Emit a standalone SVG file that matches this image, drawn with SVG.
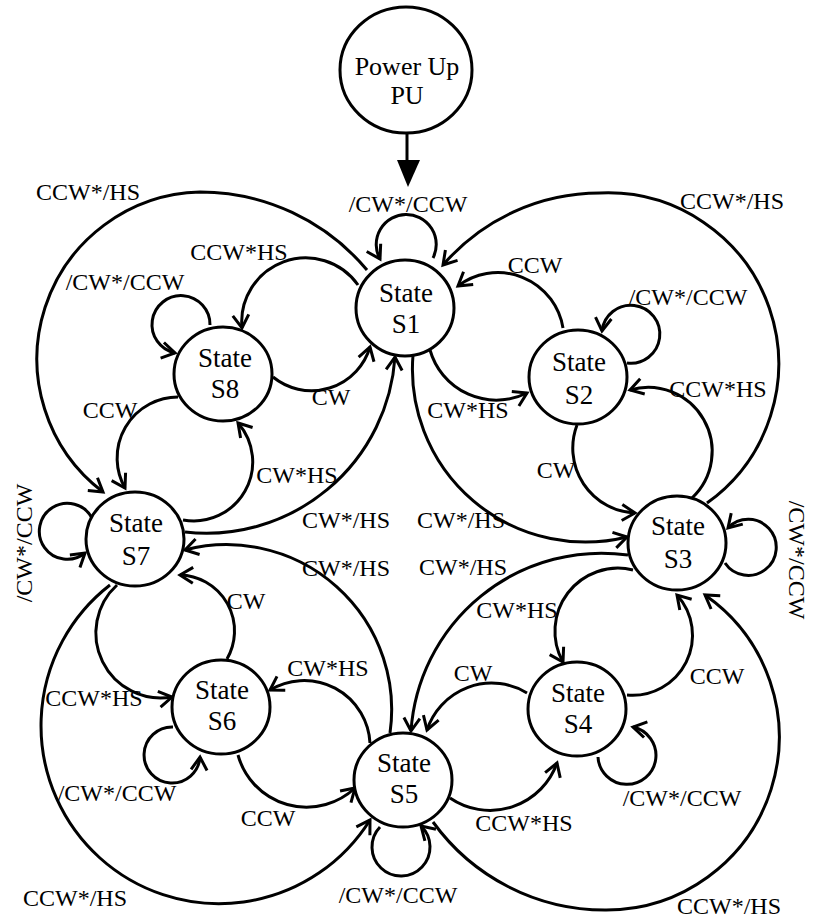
<svg xmlns="http://www.w3.org/2000/svg" width="817" height="920" viewBox="0 0 817 920">
  <style>
    .node { fill: #fff; stroke: #000; stroke-width: 3; }
    .name { font-family: "Liberation Serif", "Times New Roman", serif; font-size: 27px; text-anchor: middle; fill: #000; }
    .edge { fill: none; stroke: #000; stroke-width: 3; marker-end: url(#arrow); }
    .lbl { font-family: "Liberation Serif", "Times New Roman", serif; font-size: 24px; text-anchor: middle; fill: #000; }
  </style>
  <defs>
    <marker id="arrow" markerUnits="userSpaceOnUse" markerWidth="16" markerHeight="16" refX="0" refY="0" orient="auto" overflow="visible">
      <path d="M-13,-8 L0,0 L-13,8" fill="none" stroke="#000" stroke-width="3"/>
    </marker>
  </defs>
  <rect width="817" height="920" fill="#fff"/>

  <!-- transitions -->
  <g id="connectors">
    <!-- power-up entry -->
    <path d="M407,133 V162" fill="none" stroke="#000" stroke-width="3"/>
    <polygon points="397,160 420,160 408,187" fill="#000"/>

    <!-- self loops -->
    <path class="edge" d="M433,258 A30,30 0 1 0 380,259"/>
    <path class="edge" d="M210,325 A29,29 0 1 0 175,353"/>
    <path class="edge" d="M627,363 A29,29 0 1 0 602,331"/>
    <path class="edge" d="M725,563 A28,28 0 1 0 728,528"/>
    <path class="edge" d="M598,757 A29,29 0 1 0 633,727"/>
    <path class="edge" d="M380,827 A29,29 0 1 0 421,826"/>
    <path class="edge" d="M173,727 A28,28 0 1 0 200,757"/>
    <path class="edge" d="M92,518 A28,28 0 1 0 85,553"/>

    <!-- neighbour transitions -->
    <path class="edge" d="M358,285 A64,64 0 0 0 242,328"/>
    <path class="edge" d="M273,377 A61,61 0 0 0 370,347"/>
    <path class="edge" d="M178,397 A61,61 0 0 0 125,488"/>
    <path class="edge" d="M183,520 A59,59 0 0 0 238,423"/>
    <path class="edge" d="M563,328 A66,66 0 0 0 458,286"/>
    <path class="edge" d="M430,350 A69,69 0 0 0 527,393"/>
    <path class="edge" d="M577,425 A65,65 0 0 0 635,513"/>
    <path class="edge" d="M692,498 A64,64 0 0 0 630,390"/>
    <path class="edge" d="M633,570 A63,63 0 0 0 563,662"/>
    <path class="edge" d="M627,695 A60,60 0 0 0 677,595"/>
    <path class="edge" d="M527,693 A68,68 0 0 0 427,730"/>
    <path class="edge" d="M450,798 A71,71 0 0 0 557,763"/>
    <path class="edge" d="M370,743 A66,66 0 0 0 270,690"/>
    <path class="edge" d="M238,755 A71,71 0 0 0 355,788"/>
    <path class="edge" d="M227,659 A56,56 0 0 0 180,575"/>
    <path class="edge" d="M117,585 A65,65 0 0 0 172,697"/>

    <!-- inner ring -->
    <path class="edge" d="M185,532 A189,189 0 0 0 395,357"/>
    <path class="edge" d="M413,355 A173,173 0 0 0 627,537"/>
    <path class="edge" d="M628,555 A191,191 0 0 0 411,731"/>
    <path class="edge" d="M390,733 A165,165 0 0 0 185,550"/>

    <!-- outer ring -->
    <path class="edge" d="M367,270 A218,218 0 0 0 200,192 A167,167 0 0 0 103,492"/>
    <path class="edge" d="M707,503 A171,171 0 0 0 600,193 A207,207 0 0 0 443,265"/>
    <path class="edge" d="M433,822 A212,212 0 0 0 605,910 A173,173 0 0 0 705,595"/>
    <path class="edge" d="M110,585 A178,178 0 1 0 370,820"/>

    <!-- labels -->
    <text class="lbl" x="408" y="212">/CW*/CCW</text>
    <text class="lbl" x="125" y="290">/CW*/CCW</text>
    <text class="lbl" x="688" y="305">/CW*/CCW</text>
    <text class="lbl" transform="translate(789,560) rotate(90)">/CW*/CCW</text>
    <text class="lbl" x="682" y="806">/CW*/CCW</text>
    <text class="lbl" x="398" y="903">/CW*/CCW</text>
    <text class="lbl" x="117" y="801">/CW*/CCW</text>
    <text class="lbl" transform="translate(32,543) rotate(-90)">/CW*/CCW</text>

    <text class="lbl" x="239" y="260">CCW*HS</text>
    <text class="lbl" x="331" y="405">CW</text>
    <text class="lbl" x="110" y="418">CCW</text>
    <text class="lbl" x="297" y="483">CW*HS</text>
    <text class="lbl" x="535" y="273">CCW</text>
    <text class="lbl" x="468" y="418">CW*HS</text>
    <text class="lbl" x="556" y="478">CW</text>
    <text class="lbl" x="718" y="397">CCW*HS</text>
    <text class="lbl" x="517" y="618">CW*HS</text>
    <text class="lbl" x="717" y="684">CCW</text>
    <text class="lbl" x="473" y="681">CW</text>
    <text class="lbl" x="524" y="831">CCW*HS</text>
    <text class="lbl" x="328" y="676">CW*HS</text>
    <text class="lbl" x="268" y="826">CCW</text>
    <text class="lbl" x="246" y="609">CW</text>
    <text class="lbl" x="94" y="706">CCW*HS</text>

    <text class="lbl" x="346" y="528">CW*/HS</text>
    <text class="lbl" x="461" y="528">CW*/HS</text>
    <text class="lbl" x="463" y="575">CW*/HS</text>
    <text class="lbl" x="346" y="576">CW*/HS</text>

    <text class="lbl" x="88" y="200">CCW*/HS</text>
    <text class="lbl" x="732" y="209">CCW*/HS</text>
    <text class="lbl" x="729" y="914">CCW*/HS</text>
    <text class="lbl" x="75" y="906">CCW*/HS</text>
  </g>

  <!-- states -->
  <g id="pu">
    <ellipse class="node" cx="406" cy="70" rx="66" ry="63"/>
    <text class="name" x="407" y="75" style="font-size:26px">Power Up</text>
    <text class="name" x="407" y="104" style="font-size:26px">PU</text>
  </g>
  <g id="s1">
    <ellipse class="node" cx="405" cy="308" rx="49" ry="48"/>
    <text class="name" x="406" y="302">State</text>
    <text class="name" x="406" y="333">S1</text>
  </g>
  <g id="s2">
    <ellipse class="node" cx="578" cy="377" rx="49" ry="47"/>
    <text class="name" x="579" y="371">State</text>
    <text class="name" x="579" y="404">S2</text>
  </g>
  <g id="s3">
    <ellipse class="node" cx="677" cy="543" rx="49" ry="47"/>
    <text class="name" x="678" y="535">State</text>
    <text class="name" x="678" y="568">S3</text>
  </g>
  <g id="s4">
    <ellipse class="node" cx="577" cy="709" rx="49" ry="47"/>
    <text class="name" x="578" y="702">State</text>
    <text class="name" x="578" y="733">S4</text>
  </g>
  <g id="s5">
    <ellipse class="node" cx="403" cy="780" rx="49" ry="47"/>
    <text class="name" x="404" y="772">State</text>
    <text class="name" x="404" y="803">S5</text>
  </g>
  <g id="s6">
    <ellipse class="node" cx="221" cy="707" rx="49" ry="47"/>
    <text class="name" x="222" y="699">State</text>
    <text class="name" x="222" y="730">S6</text>
  </g>
  <g id="s7">
    <ellipse class="node" cx="135" cy="539" rx="49" ry="47"/>
    <text class="name" x="136" y="532">State</text>
    <text class="name" x="136" y="565">S7</text>
  </g>
  <g id="s8">
    <ellipse class="node" cx="223" cy="374" rx="49" ry="47"/>
    <text class="name" x="225" y="367">State</text>
    <text class="name" x="225" y="398">S8</text>
  </g>
</svg>
